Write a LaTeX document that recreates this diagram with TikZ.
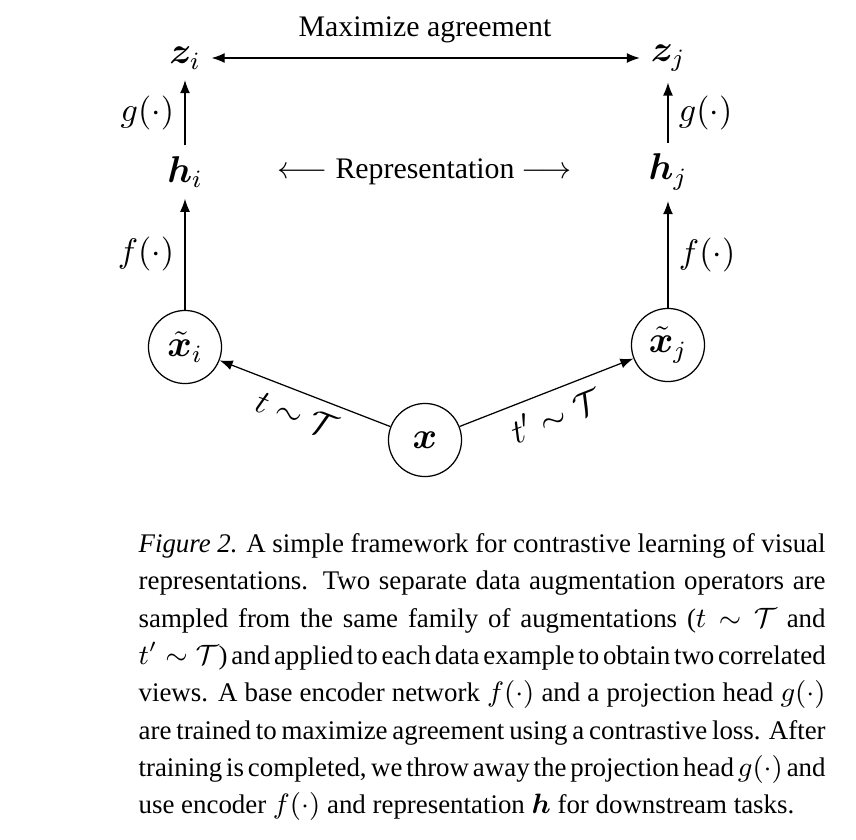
\documentclass[tikz,border=0pt]{standalone}
\usepackage{amsmath}
\usepackage{bm}
\usepackage{fontspec}
\setmainfont{Liberation Serif}
\usetikzlibrary{arrows.meta, positioning}
\newcommand{\capfont}{\fontsize{8.65}{12}\selectfont
  \spaceskip=0.25em plus 0.2em minus 0.13em\relax}

\begin{document}
\begin{tikzpicture}[
    x=0.3217pt, y=-0.3217pt,
    var/.style={draw, circle, minimum size=23.5pt, inner sep=0pt, font=\large},
    vec/.style={font=\large},
    lbl/.style={font=\fontsize{11}{13}\selectfont},
    txt/.style={font=\fontsize{9.6}{12}\selectfont},
    arr/.style={-{Latex[length=4.2pt, width=3.2pt]}},
    darr/.style={{Latex[length=4.2pt, width=3.2pt]}-{Latex[length=4.2pt, width=3.2pt]}},
  ]
    \useasboundingbox (0,0) rectangle (856,840);

    % outputs of the projection head
    \node[vec] (zi) at (185,58) {$\bm{z}_i$};
    \node[vec] (zj) at (668,58) {$\bm{z}_j$};
    \node[txt] (agree) at (425,30) {Maximize agreement};

    % representations
    \node[vec] (hi) at (185,172) {$\bm{h}_i$};
    \node[vec] (hj) at (668,172) {$\bm{h}_j$};
    \node[txt] (repr) at (425,172) {$\longleftarrow$ Representation $\longrightarrow$};

    % augmented views and input
    \node[var] (xi) at (185,347) {$\tilde{\bm{x}}_i$};
    \node[var] (xj) at (668,345) {$\tilde{\bm{x}}_j$};
    \node[var] (x)  at (425,440) {$\bm{x}$};

    \draw[darr] (zi) -- (zj);
    \draw[arr] (hi) -- node[lbl, left]  {$g(\cdot)$} (zi);
    \draw[arr] (hj) -- node[lbl, right] {$g(\cdot)$} (zj);
    \draw[arr] (xi) -- node[lbl, left]  {$f(\cdot)$} (hi);
    \draw[arr] (xj) -- node[lbl, right] {$f(\cdot)$} (hj);
    \draw[arr] (x)  -- node[lbl, sloped, below] {$t\sim\mathcal{T}$} (xi);
    \draw[arr] (x)  -- node[lbl, sloped, below] {$t'\sim\mathcal{T}$} (xj);

    % caption
    \node[anchor=north west, inner sep=0pt, text width=221pt, align=justify,
          font=\capfont] (cap) at (138,533)
      {\textit{Figure 2.} A simple framework for contrastive learning of visual\linebreak
       representations. Two separate data augmentation operators are\linebreak
       sampled from the same family of augmentations ($t\sim\mathcal{T}$ and\linebreak
       $t'\sim\mathcal{T}$) and applied to each data example to obtain two correlated\linebreak
       views. A base encoder network $f(\cdot)$ and a projection head $g(\cdot)$\linebreak
       are trained to maximize agreement using a contrastive loss. After\linebreak
       training is completed, we throw away the projection head $g(\cdot)$ and\linebreak
       use encoder $f(\cdot)$ and representation $\bm{h}$ for downstream tasks.};
\end{tikzpicture}
\end{document}
